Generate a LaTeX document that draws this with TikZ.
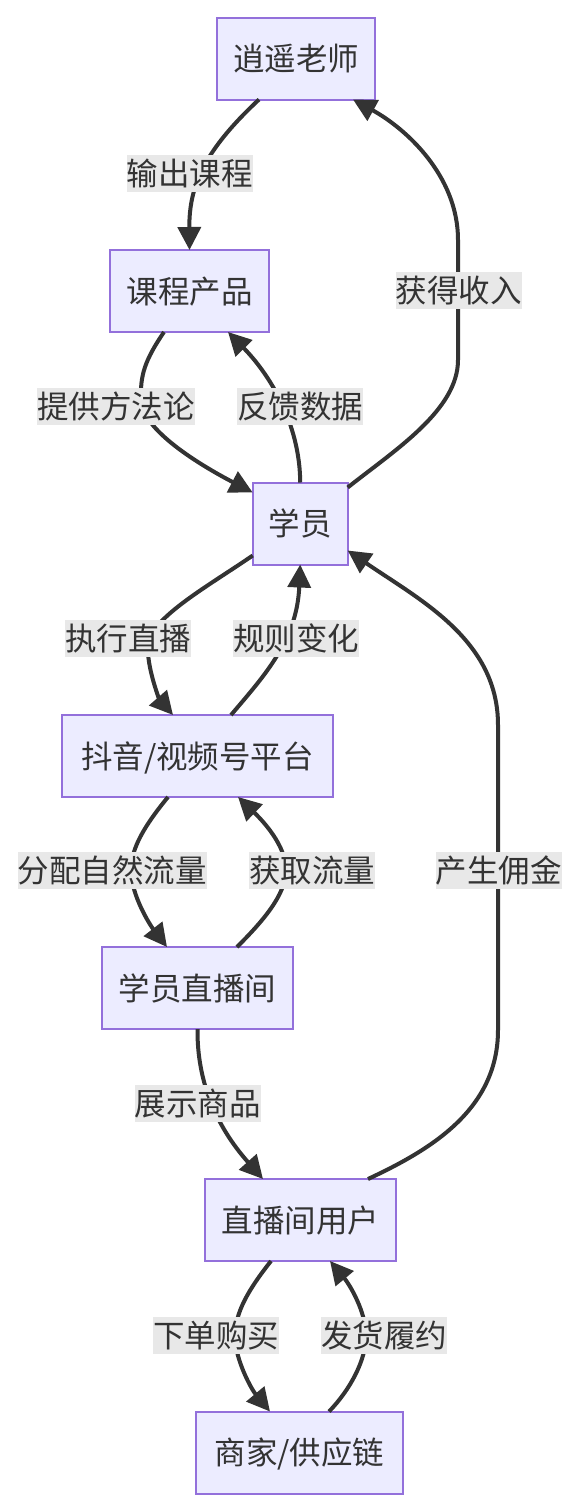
\documentclass[tikz,border=0pt]{standalone}
\usepackage{fontspec}
\newfontfamily\cjk{Noto Sans CJK SC}
\usetikzlibrary{arrows.meta}
\definecolor{nodefill}{HTML}{ECECFF}
\definecolor{nodeline}{HTML}{9370DB}
\definecolor{ink}{HTML}{333333}
\definecolor{lblbg}{HTML}{E8E8E8}
\begin{document}
\begin{tikzpicture}[x=1pt,y=-1pt,
  box/.style={draw=nodeline, fill=nodefill, line width=2pt, minimum height=82pt,
    inner sep=0pt, outer sep=0pt, font=\cjk\fontsize{31.5pt}{37pt}\selectfont,
    text=ink, text height=27pt, text depth=3pt},
  lbl/.style={fill=lblbg, inner sep=0pt, outer sep=0pt, minimum height=37pt,
    font=\cjk\fontsize{31.5pt}{37pt}\selectfont, text=ink, text height=27pt, text depth=3pt},
  conn/.style={draw=ink, line width=4pt, -{Triangle[length=23pt,width=23pt]}}]
\useasboundingbox (0,0) rectangle (580,1510);
% nodes
\node[box, minimum width=158pt] (T) at (296,58.5) {逍遥老师};
\node[box, minimum width=159pt] (C) at (189.5,291) {课程产品};
\node[box, minimum width=95pt] (S) at (300.2,523.5) {学员};
\node[box, minimum width=271.5pt] (P) at (197.5,756) {抖音/视频号平台};
\node[box, minimum width=191pt] (R) at (197.5,988) {学员直播间};
\node[box, minimum width=191pt] (U) at (300.5,1220) {直播间用户};
\node[box, minimum width=207pt] (M) at (299.5,1452.5) {商家/供应链};
% connectors
\draw[conn] ([xshift=-37pt]T.south) .. controls (205,150) and (189,185) .. (C.north);
\draw[conn] ([yshift=-5pt]S.north east) .. controls (395,450) and (458,410) .. (458,360)
  -- (458,240) .. controls (458,175) and (405,128) .. ([xshift=57pt]T.south);
\draw[conn] ([xshift=-25.5pt]C.south) .. controls (145,360) and (140,375) .. (141,400)
  .. controls (142,430) and (200,465) .. ([yshift=-10pt]S.north west);
\draw[conn] (S.north) .. controls (300,430) and (275,380) .. ([xshift=38.5pt]C.south);
\draw[conn] ([yshift=9pt]S.south west) .. controls (210,585) and (150,618) .. (148,645)
  .. controls (146.5,668) and (160,700) .. ([xshift=-24.5pt]P.north);
\draw[conn] ([xshift=33.5pt]P.north) .. controls (265,675) and (297,640) .. (S.south);
\draw[conn] ([xshift=-29.5pt]P.south) .. controls (145,825) and (131,848) .. (131,870)
  .. controls (131,895) and (150,925) .. ([xshift=-30.5pt]R.north);
\draw[conn] ([xshift=39.5pt]R.north) .. controls (262,922) and (286,895) .. (286,870)
  .. controls (286,845) and (262,820) .. ([xshift=40.5pt]P.south);
\draw[conn] ([xshift=67.5pt]U.north) .. controls (430,1150) and (498,1110) .. (498,1030)
  -- (498,725) .. controls (498,640) and (420,600) .. ([yshift=14pt]S.south east);
\draw[conn] (R.south) .. controls (197,1080) and (215,1125) .. ([xshift=-37.5pt]U.north);
\draw[conn] ([xshift=-29.5pt]U.south) .. controls (248,1290) and (235,1313) .. (235,1336)
  .. controls (235,1360) and (252,1390) .. ([xshift=-29.5pt]M.north);
\draw[conn] ([xshift=29.5pt]M.north) .. controls (350,1390) and (366,1360) .. (366,1336)
  .. controls (366,1312) and (350,1285) .. ([xshift=29.5pt]U.south);
% edge labels
\node[lbl] (l1) at (189.5,173.5) {输出课程};
\node[lbl] (l2) at (458.5,290.5) {获得收入};
\node[lbl] (l3) at (116,406.5) {提供方法论};
\node[lbl] (l4) at (300,406.5) {反馈数据};
\node[lbl] (l5) at (128,638.5) {执行直播};
\node[lbl] (l6) at (296,638.5) {规则变化};
\node[lbl] (l7) at (112,870.5) {分配自然流量};
\node[lbl] (l8) at (312,870.5) {获取流量};
\node[lbl] (l9) at (498.5,870.5) {产生佣金};
\node[lbl] (l10) at (197.5,1103.5) {展示商品};
\node[lbl] (l11) at (216,1335.5) {下单购买};
\node[lbl] (l12) at (384,1335.5) {发货履约};
\end{tikzpicture}
\end{document}
